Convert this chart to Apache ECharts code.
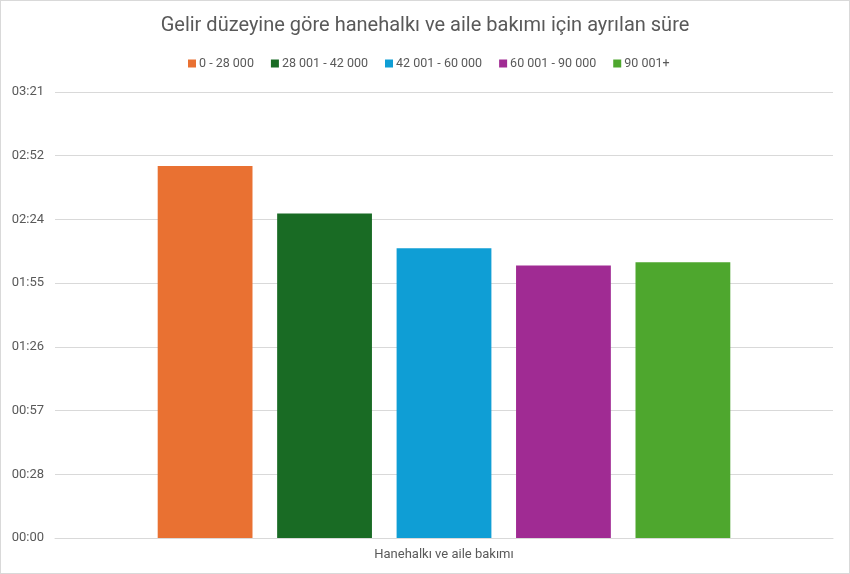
<!DOCTYPE html>
<html>
<head>
<meta charset="utf-8">
<script src="https://cdn.jsdelivr.net/npm/echarts@6/dist/echarts.min.js"></script>
<style>
html,body{margin:0;padding:0;background:#fff;}
#c{width:848px;height:572px;border:1px solid #d9d9d9;}
</style>
</head>
<body>
<div id="c"></div>
<script>
const titleText = 'Gelir düzeyine göre hanehalkı ve aile bakımı için ayrılan süre';
const categories = ['Hanehalkı ve aile bakımı'];
const seriesNames = ['0 - 28 000', '28 001 - 42 000', '42 001 - 60 000', '60 001 - 90 000', '90 001+'];
// minutes
const values0 = [168.2];
const values1 = [146.7];
const values2 = [131.0];
const values3 = [123.2];
const values4 = [124.7];
const colors = ['#E97132', '#196B24', '#0F9ED5', '#A02B93', '#4EA72E'];
const axisMax = 201.6;
const axisInterval = 28.8;

const seriesValues = [values0, values1, values2, values3, values4];
const font = '"Roboto", "Liberation Sans", sans-serif';

function fmt(v){
  const m = Math.floor(v + 1e-6);
  const h = Math.floor(m / 60);
  const mm = m % 60;
  return String(h).padStart(2,'0') + ':' + String(mm).padStart(2,'0');
}

const chart = echarts.init(document.getElementById('c'));
chart.setOption({
  animation: false,
  textStyle: { fontFamily: font },
  title: {
    text: titleText,
    left: 'center',
    top: 10,
    textStyle: { fontSize: 20, fontWeight: 'normal', color: '#595959', fontFamily: font }
  },
  legend: {
    top: 51,
    left: 182,
    itemWidth: 8,
    itemHeight: 8,
    itemGap: 17,
    icon: 'rect',
    textStyle: { fontSize: 12.5, color: '#595959', fontFamily: font, padding: [0,0,0,-2] },
    data: seriesNames
  },
  grid: { left: 54, right: 16, top: 91, bottom: 35, containLabel: false },
  xAxis: {
    type: 'category',
    data: categories,
    axisLine: { lineStyle: { color: '#d9d9d9' } },
    axisTick: { show: false },
    axisLabel: { color: '#595959', fontSize: 13, margin: 10, fontFamily: font }
  },
  yAxis: {
    type: 'value',
    min: 0,
    max: axisMax,
    interval: axisInterval,
    axisLine: { show: false },
    axisTick: { show: false },
    splitLine: { lineStyle: { color: '#d9d9d9' } },
    axisLabel: { color: '#595959', fontSize: 13, margin: 11, formatter: fmt, fontFamily: font }
  },
  series: seriesNames.map((n, i) => ({
    name: n,
    type: 'bar',
    data: seriesValues[i],
    itemStyle: { color: colors[i] },
    barGap: '26%',
    barCategoryGap: '26.4%'
  }))
});
</script>
</body>
</html>
